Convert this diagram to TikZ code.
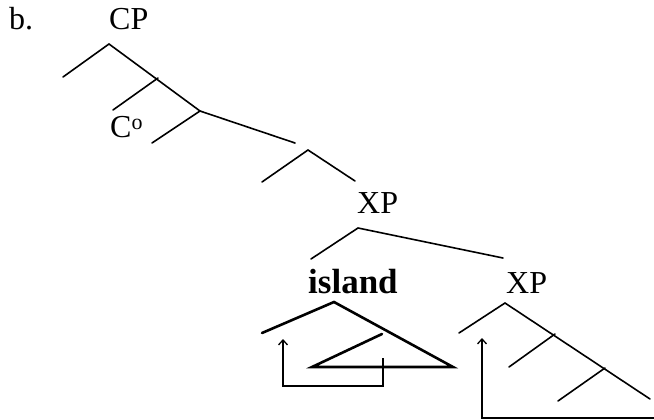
\documentclass[tikz,border=0pt]{standalone}
\usepackage{fontspec}
\setmainfont{Liberation Serif}
\usetikzlibrary{arrows.meta}
\begin{document}
\begin{tikzpicture}[x=1pt,y=-1pt,
  lbl/.style={inner sep=0pt,anchor=base west,font=\fontsize{32}{34}\selectfont},
  br/.style={line width=1.6pt,line cap=round},
  thick br/.style={line width=2.6pt,line cap=round,line join=miter},
  mv/.style={line width=1.3pt,-{Straight Barb[length=5pt,width=9pt,line width=1.3pt]}}]
\useasboundingbox (0,0) rectangle (654,420);
% labels
\node[lbl] (b) at (9,30) {b.};
\node[lbl] (cp) at (109,30) {CP};
\node[lbl] (c0) at (110,138) {C\raisebox{9pt}{\fontsize{22}{24}\selectfont o}};
\node[lbl] (xp1) at (357,213) {XP};
\node[lbl,font=\fontsize{35}{37}\selectfont\bfseries] (isl) at (308,293) {island};
\node[lbl] (xp2) at (506,293) {XP};
% coordinates of the upper spine
\coordinate (a1) at (109,44);
\coordinate (a1l) at (63,77);
\coordinate (a2) at (158,78);
\coordinate (a2l) at (113,110);
\coordinate (a3) at (200,111);
\coordinate (a3l) at (152,143);
\coordinate (a3r) at (295,143);
\coordinate (a4) at (308,150);
\coordinate (a4l) at (262,182);
\coordinate (a4r) at (355,181);
\draw[br] (a1l) -- (a1) -- (a3);
\draw[br] (a2l) -- (a2);
\draw[br] (a3l) -- (a3) -- (a3r);
\draw[br] (a4l) -- (a4) -- (a4r);
% XP
\coordinate (x1) at (358,228);
\coordinate (x1l) at (311,259);
\coordinate (x1r) at (503,258);
\draw[br] (x1l) -- (x1) -- (x1r);
% island tree
\coordinate (i1) at (334,302);
\coordinate (i1l) at (262,333);
\coordinate (i1r) at (453,367);
\coordinate (i2) at (382,334);
\coordinate (i2l) at (312,367);
\draw[thick br] (i1l) -- (i1) -- (i1r) -- (i2l) -- (i2);
% XP2 tree
\coordinate (y1) at (505,303);
\coordinate (y1l) at (459,333);
\coordinate (y1r) at (650,399);
\coordinate (y2) at (555,334);
\coordinate (y2l) at (509,367);
\coordinate (y3) at (605,368);
\coordinate (y3l) at (558,401);
\draw[br] (y1l) -- (y1) -- (y1r);
\draw[br] (y2l) -- (y2);
\draw[br] (y3l) -- (y3);
% movement arrows
\coordinate (m1s) at (383,358);
\coordinate (m1t) at (283,339);
\draw[mv] (m1s) -- (383,386) -| (m1t);
\coordinate (m2s) at (654,418);
\coordinate (m2t) at (482,338);
\draw[mv] (m2s) -| (m2t);
\end{tikzpicture}
\end{document}
